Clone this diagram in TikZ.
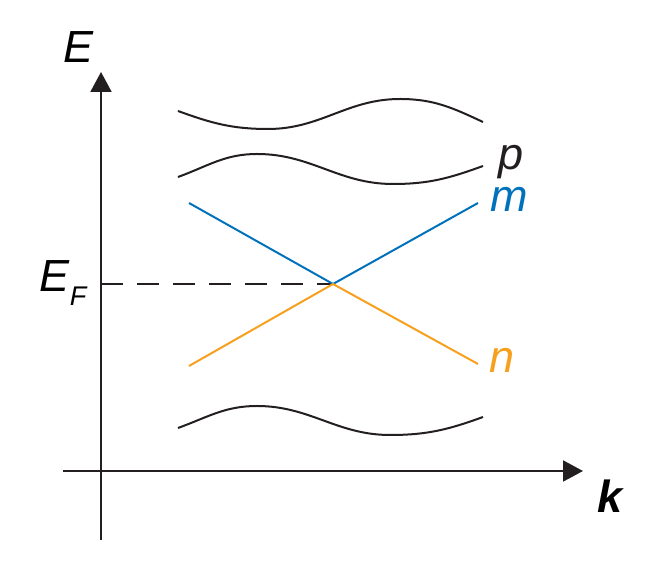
\documentclass[tikz,border=0pt]{standalone}
\usepackage{fontspec}
\setmainfont{Liberation Sans}
\usetikzlibrary{arrows.meta}
\definecolor{ink}{RGB}{35,31,32}
\definecolor{bandblue}{RGB}{0,114,188}
\definecolor{bandorange}{RGB}{247,160,30}
\tikzset{
  axis/.style={draw=ink, line width=2pt, -{Triangle[length=20pt,width=21pt]}},
  band/.style={draw=ink, line width=2pt},
  lbl/.style={anchor=base, inner sep=0pt, font=\fontsize{45}{45}\selectfont\itshape}
}
\begin{document}
\begin{tikzpicture}[x=1pt,y=1pt]
\useasboundingbox (0,0) rectangle (664,583);
% axes
\coordinate (ybot) at (101,43);
\coordinate (ytop) at (101,511);
\coordinate (xl) at (63,112);
\coordinate (xr) at (583,112);
\draw[axis] (ybot) -- (ytop);
\draw[axis] (xl) -- (xr);
% crossing
\coordinate (X) at (333,299);
\coordinate (EFa) at (101,299);
\draw[ink, line width=2pt, dash pattern=on 22pt off 14pt] (EFa) -- (X);
\coordinate (m1) at (189,380);
\coordinate (m2) at (478,380);
\coordinate (n1) at (189,217);
\coordinate (n2) at (478,219);
\draw[bandblue, line width=2pt] (m1) -- (X) -- (m2);
\draw[bandorange, line width=2pt] (n1) -- (X) -- (n2);
% bands
\draw[band] (178,472) to[out=-20,in=180] (268,454) to[out=0,in=180] (400,484) to[out=0,in=155] (483,461);
\draw[band] (178,406) to[out=20,in=180] (257,429) to[out=0,in=180] (393,399) to[out=0,in=200] (483,417);
\draw[band] (178,155) to[out=20,in=180] (257,177) to[out=0,in=180] (390,148) to[out=0,in=200] (483,166);
% labels
\node[lbl] (E) at (79,520) {E};
\node[lbl] (EF) at (55,291) {E};
\node[anchor=base, inner sep=0pt, font=\fontsize{27}{27}\selectfont\itshape] (F) at (78,277) {F};
\node[lbl, text=ink] (p) at (511,413) {p};
\node[lbl, text=bandblue] (m) at (509,371) {m};
\node[lbl, text=bandorange] (n) at (502,210) {n};
\node[lbl, font=\fontsize{45}{45}\selectfont\bfseries\itshape] (k) at (610,70) {k};
\end{tikzpicture}
\end{document}
